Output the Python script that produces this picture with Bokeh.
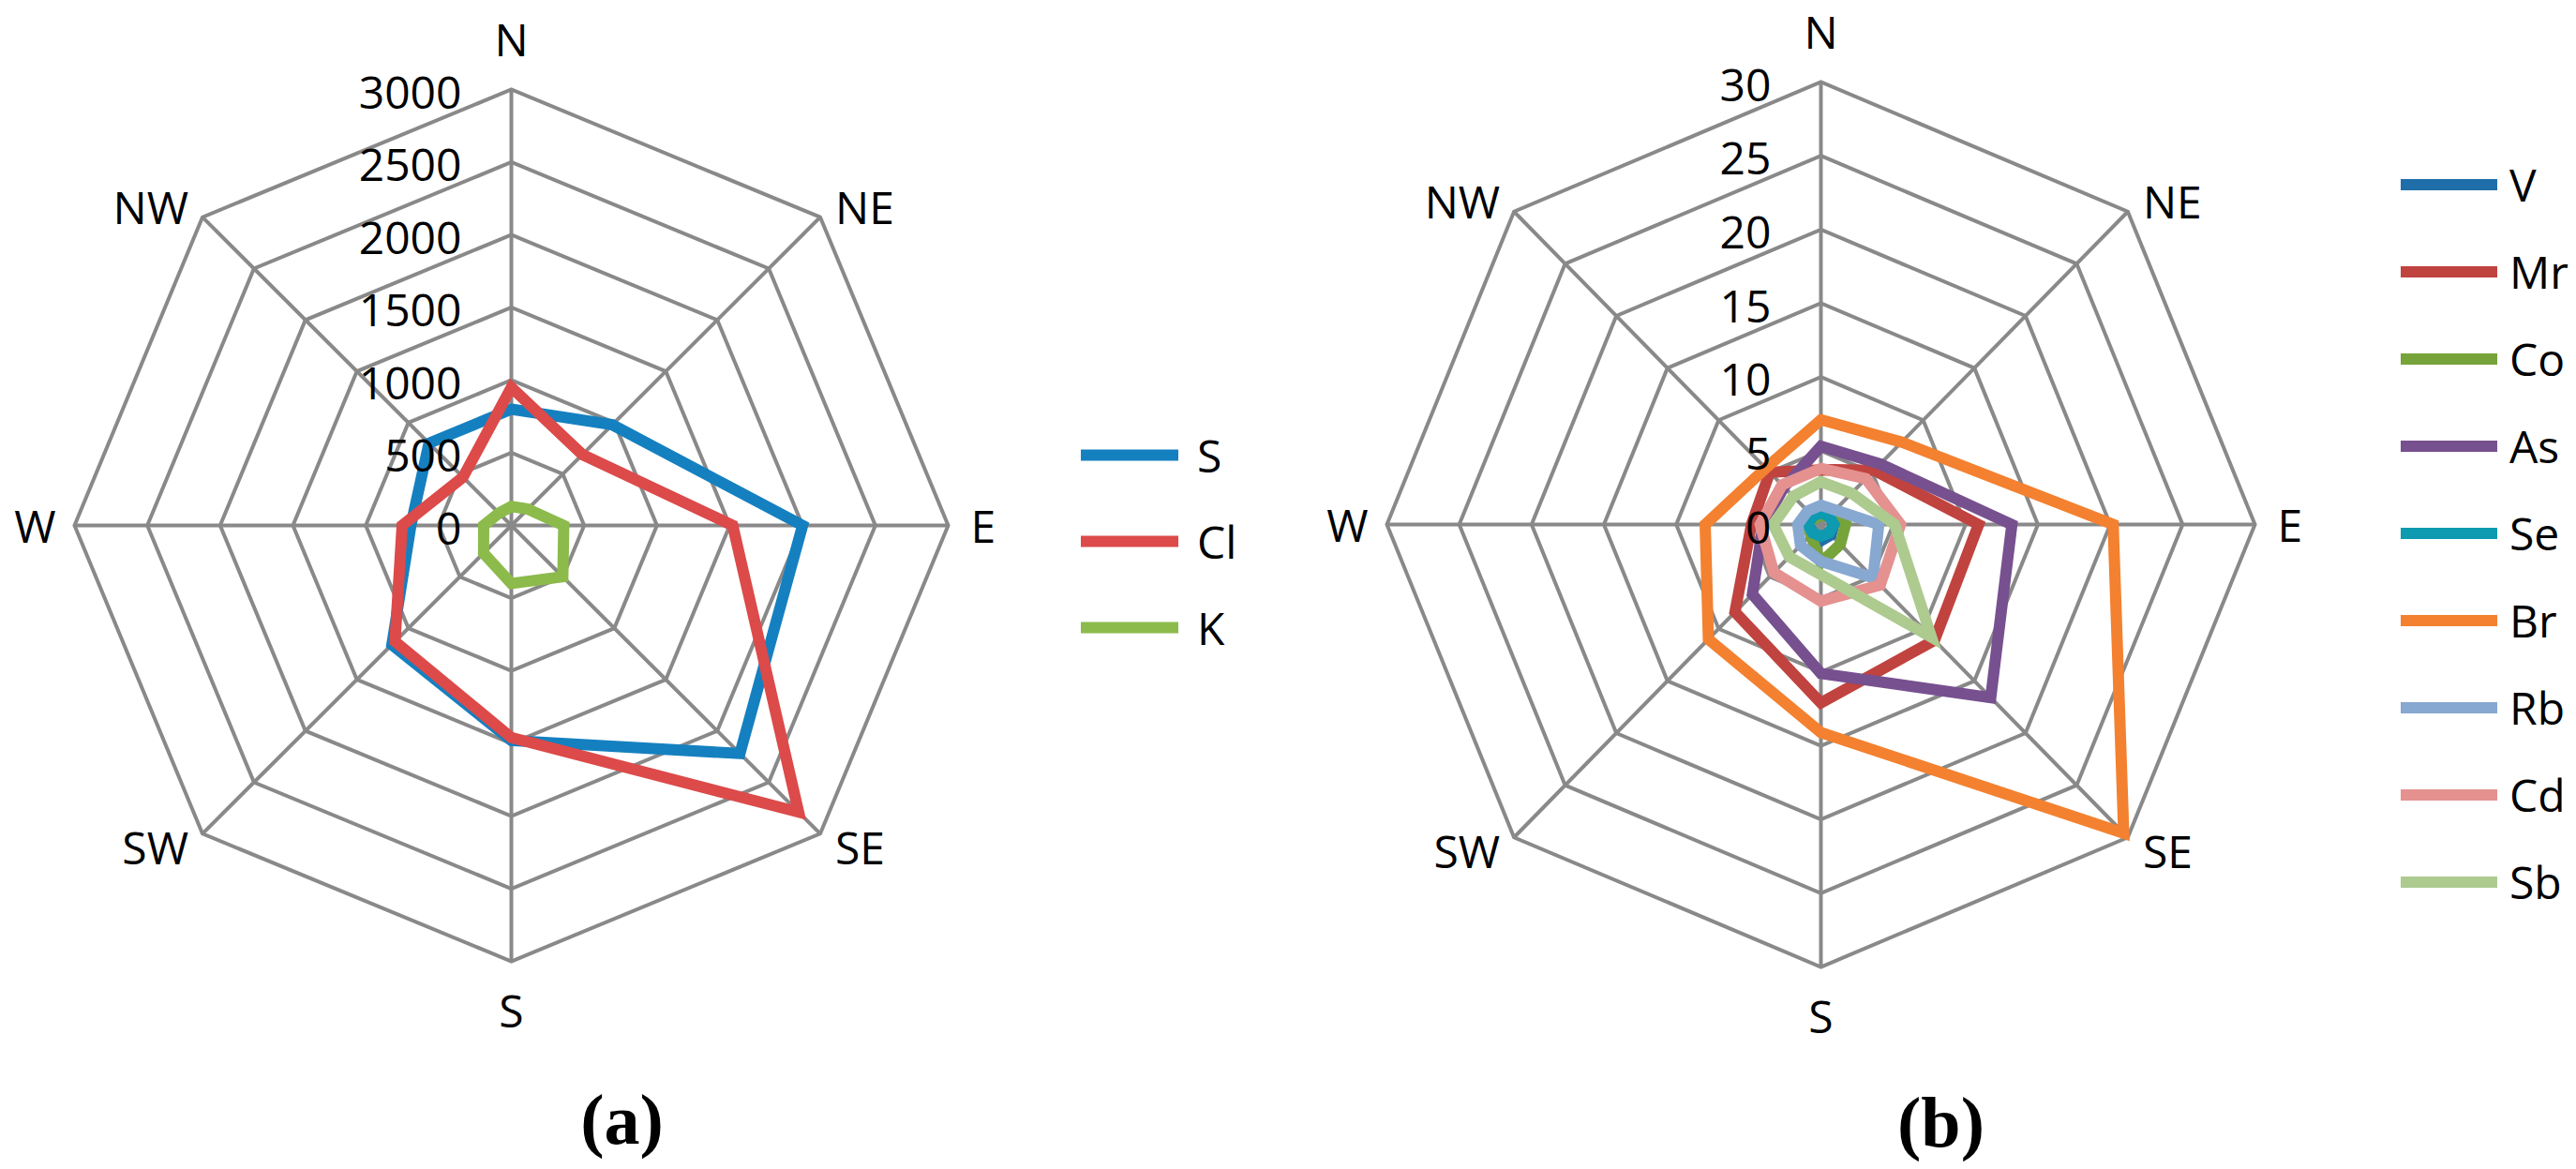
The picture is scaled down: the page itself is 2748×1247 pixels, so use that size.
import numpy as np
from bokeh.plotting import figure
from bokeh.models import Range1d, Legend, LegendItem
from bokeh.layouts import row
from bokeh.core.properties import value
from bokeh.embed import file_html
from bokeh.resources import INLINE

# ---------------- data ----------------
directions = ["N", "NE", "E", "SE", "S", "SW", "W", "NW"]

left_ticks = [0, 500, 1000, 1500, 2000, 2500, 3000]
left_names = ["S", "Cl", "K"]
S_vals = [800, 980, 2000, 2220, 1480, 1160, 690, 800]
Cl_vals = [950, 690, 1520, 2790, 1460, 1130, 750, 470]
K_vals = [130, 160, 360, 500, 400, 270, 190, 120]
left_colors = ["#1580C0", "#DC4A4A", "#8CBB4C"]

right_ticks = [0, 5, 10, 15, 20, 25, 30]
right_names = ["V", "Mr", "Co", "As", "Se", "Br", "Rb", "Cd", "Sb"]
V_vals = [0.7, 0.8, 0.9, 1.0, 1.1, 0.8, 0.8, 0.7]
Mr_vals = [3.7, 5.2, 10.9, 11.1, 12.1, 8.4, 4.8, 5.0]
Co_vals = [0.6, 0.9, 1.7, 1.9, 2.6, 1.0, 0.9, 0.6]
As_vals = [5.3, 5.8, 13.2, 16.6, 10.1, 6.7, 4.0, 3.6]
Se_vals = [0.8, 0.8, 0.9, 0.8, 0.8, 0.8, 0.9, 0.8]
Br_vals = [7.1, 7.9, 20.2, 29.6, 14.1, 11.0, 8.0, 5.4]
Rb_vals = [1.3, 1.4, 4.0, 5.1, 2.5, 2.0, 1.6, 1.3]
Cd_vals = [3.8, 4.4, 5.5, 5.8, 5.2, 4.6, 4.2, 3.8]
Sb_vals = [2.9, 3.0, 5.1, 10.8, 3.4, 3.1, 3.3, 2.7]
right_colors = ["#1F6EAA", "#C0433F", "#77A33B", "#77508F", "#0E9AB0",
                "#F38130", "#87A8D0", "#E49190", "#ADCA8F"]

GRID = "#898989"
FONT = "Open Sans"
FS = "48px"
ang = np.deg2rad(np.arange(len(directions)) * 45.0)

# label offsets in screen px (dx, dy with y down) and alignment
label_offsets = {
    "N": (0, -54, "center"), "NE": (16, -11, "left"), "E": (24, 0, "left"),
    "SE": (16, 14, "left"), "S": (0, 52, "center"), "SW": (-15, 14, "right"),
    "W": (-20, 0, "right"), "NW": (-15, -11, "right"),
}


def closed(vals):
    v = np.asarray(vals, dtype=float)
    xs = list(v * np.sin(ang))
    ys = list(v * np.cos(ang))
    return xs + xs[:2], ys + ys[:2]


def make_panel(W, H, cx, cy, rx, ry, ticks, names, data, colors, lw,
               leg_x, first_center, pitch, glyph_w, standoff, tag, tag_pos):
    vmax = ticks[-1]
    sx = rx / vmax
    sy = ry / vmax
    p = figure(width=W, height=H, output_backend="svg", toolbar_location=None,
               x_range=Range1d(-cx / sx, (W - cx) / sx),
               y_range=Range1d(-(H - cy) / sy, cy / sy),
               min_border=0, min_border_left=0, min_border_right=0,
               min_border_top=0, min_border_bottom=0)
    p.axis.visible = False
    p.grid.visible = False
    p.outline_line_color = None
    p.background_fill_color = "white"
    p.border_fill_color = "white"

    # grid rings and spokes
    rxs, rys = [], []
    for t in ticks[1:]:
        a, b = closed([t] * len(directions))
        rxs.append(a)
        rys.append(b)
    p.multi_line(rxs, rys, line_color=GRID, line_width=4, line_join="miter")
    p.segment(x0=[0] * 8, y0=[0] * 8, x1=list(vmax * np.sin(ang)),
              y1=list(vmax * np.cos(ang)), line_color=GRID, line_width=4)

    # series
    items = []
    for name, vals, col in zip(names, data, colors):
        xs, ys = closed(vals)
        r = p.line(xs, ys, line_color=col, line_width=lw, line_join="miter",
                   line_cap="round")
        items.append(LegendItem(label=name, renderers=[r]))

    # tick labels
    p.text(x=[-53 / sx] * len(ticks), y=[t - 3 / sy for t in ticks],
           text=[str(t) for t in ticks], text_align="right",
           text_baseline="middle", text_font=value(FONT),
           text_font_size=value(FS), text_color="black")

    # direction labels
    for align in ("left", "center", "right"):
        lx, ly, lt = [], [], []
        for d, a in zip(directions, ang):
            dx, dy, al = label_offsets[d]
            if al != align:
                continue
            lx.append(vmax * np.sin(a) + dx / sx)
            ly.append(vmax * np.cos(a) - dy / sy)
            lt.append(d)
        p.text(x=lx, y=ly, text=lt, text_align=align, text_baseline="middle",
               text_font=value(FONT), text_font_size=value(FS),
               text_color="black")

    # legend
    n = len(items)
    total_h = n * pitch
    top = first_center - pitch / 2
    legend = Legend(items=items, location=(leg_x, H - top - total_h),
                    orientation="vertical", glyph_width=glyph_w,
                    glyph_height=pitch, label_height=pitch, spacing=0,
                    padding=0, margin=0,
                    border_line_color=None, background_fill_alpha=0,
                    label_standoff=standoff, label_text_font=FONT,
                    label_text_font_size=FS, label_text_color="black",
                    label_text_baseline="middle")
    p.add_layout(legend)

    # panel tag
    p.text(x=[(tag_pos[0] - cx) / sx], y=[(cy - tag_pos[1]) / sy], text=[tag],
           text_align="center", text_baseline="middle",
           text_font=value("Liberation Serif"), text_font_style="bold",
           text_font_size=value("76px"), text_color="black")
    return p


H = 1239
p1 = make_panel(1320, H, 545, 560, 466, 465, left_ticks, left_names,
                [S_vals, Cl_vals, K_vals], left_colors, 12,
                1153, 485, 92, 104, 20, "(a)", (663, 1193))
p2 = make_panel(1420, H, 622, 559, 463, 472, right_ticks, right_names,
                [V_vals, Mr_vals, Co_vals, As_vals, Se_vals, Br_vals, Rb_vals,
                 Cd_vals, Sb_vals], right_colors, 12,
                1241, 196, 93, 103, 13, "(b)", (750, 1196))

layout = row(p1, p2)
open("out.html", "w").write(file_html(layout, INLINE))
